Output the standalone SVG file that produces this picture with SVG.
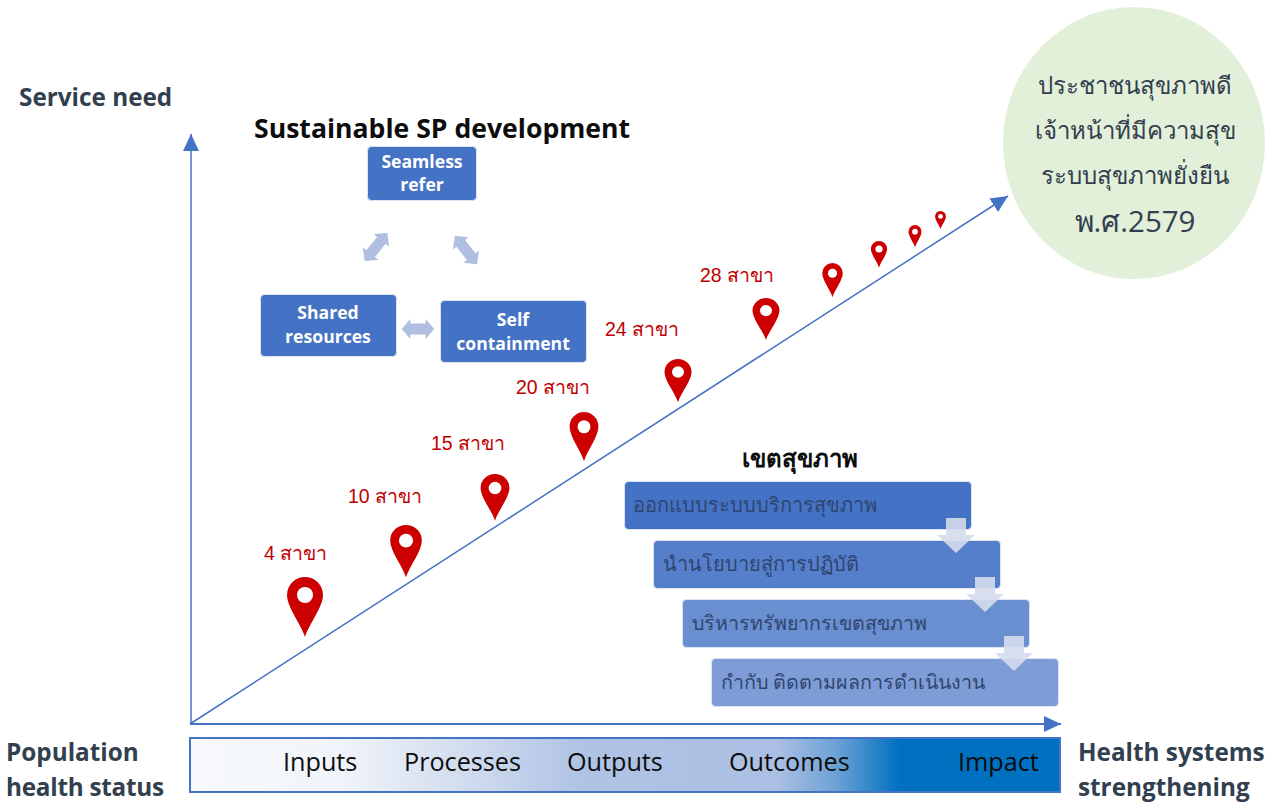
<svg xmlns="http://www.w3.org/2000/svg" xmlns:xlink="http://www.w3.org/1999/xlink" width="1268" height="803" viewBox="0 0 1268 803">
<style>
text{font-family:"Open Sans","Noto Sans","Liberation Sans",sans-serif}
.lab{font-size:24.300px;font-weight:700;fill:#323f4f}
.box{fill:#4472c4;stroke:#dbe4f3;stroke-width:1}
.bt{font-size:17.600px;font-weight:700;fill:#fff;text-anchor:middle}
.red{font-size:19.500px;fill:#c00000;font-family:"Liberation Sans","Noto Sans",sans-serif}
.step{font-size:19.700px;fill:#2f4570}
.ct{font-size:24px;fill:#323f4f;text-anchor:middle}
.bar{font-size:25.200px;fill:#0d0d0d}
.dbl{fill:#b0bfe0}
.down{fill:#d5dcec;opacity:.9}
.line{stroke:#4472c4;fill:none}
</style>
<defs>
<marker id="ah" markerUnits="userSpaceOnUse" markerWidth="18" markerHeight="16" refX="17" refY="8" orient="auto"><path d="M0 0L17 8L0 16Z" fill="#4472c4"/></marker>
<linearGradient id="g" x1="0" x2="1" y1="0" y2="0">
<stop offset="0" stop-color="#f7f9fc"/><stop offset=".17" stop-color="#f1f4fa"/><stop offset=".3" stop-color="#d5dff0"/><stop offset=".45" stop-color="#b0c3e4"/><stop offset=".675" stop-color="#abbfe4"/><stop offset=".74" stop-color="#6fa3d6"/><stop offset=".816" stop-color="#0070c0"/><stop offset="1" stop-color="#0070c0"/>
</linearGradient>
<g id="pin"><path d="M0 60C-4 47-18 30-18 18A18 18 0 0 1 18 18C18 30 4 47 0 60Z" fill="#cc0000"/><circle cx="0" cy="18" r="8" fill="#fff"/></g>
<path id="dbl" d="M-18 0L-8.500 -10V-5.500H8.500V-10L18 0L8.500 10V5.500H-8.500V10Z"/>
</defs>

<g id="connectors">
<path class="line" stroke-width="1.5" d="M191 724V134" marker-end="url(#ah)"/>
<path class="line" stroke-width="2" d="M190 724H1061" marker-end="url(#ah)"/>
<path class="line" stroke-width="1.5" d="M190 724L1008 196" marker-end="url(#ah)"/>
</g>

<g id="axis-labels">
<text class="lab" x="19" y="106">Service need</text>
<text class="lab" x="6" y="761">Population</text>
<text class="lab" x="6" y="796" textLength="158">health status</text>
<text class="lab" x="1078" y="761">Health systems</text>
<text class="lab" x="1078" y="796">strengthening</text>
</g>

<g id="goal">
<ellipse cx="1134" cy="143" rx="131" ry="136" fill="#e2efd9"/>
<text class="ct" x="1135" y="94">ประชาชนสุขภาพดี</text>
<text class="ct" x="1135" y="139">เจ้าหน้าที่มีความสุข</text>
<text class="ct" x="1135" y="184">ระบบสุขภาพยั่งยืน</text>
<text class="ct" x="1135" y="232" style="font-size:29.500px">พ.ศ.2579</text>
</g>

<g id="sp-title"><text x="254" y="138" font-size="26.600" font-weight="700" fill="#0d0d0d">Sustainable SP development</text></g>
<g id="seamless"><rect class="box" x="367.500" y="146.500" width="109" height="54" rx="4"/><text class="bt" x="422" y="168">Seamless</text><text class="bt" x="422" y="191">refer</text></g>
<g id="shared"><rect class="box" x="260.500" y="294.500" width="136" height="62" rx="4"/><text class="bt" x="328" y="319">Shared</text><text class="bt" x="328" y="343">resources</text></g>
<g id="self"><rect class="box" x="440.500" y="300.500" width="146" height="62" rx="4"/><text class="bt" x="513" y="326">Self</text><text class="bt" x="513" y="350">containment</text></g>
<g id="cycle-arrows" class="dbl">
<use href="#dbl" transform="translate(418 329) scale(.9 1)"/>
<use href="#dbl" transform="translate(376 247) rotate(-51)"/>
<use href="#dbl" transform="translate(466 250) rotate(52)"/>
</g>

<g id="pins">
<use href="#pin" transform="translate(305 577)"/>
<use href="#pin" transform="translate(406 525) scale(.88 .87)"/>
<use href="#pin" transform="translate(495 474) scale(.8 .78)"/>
<use href="#pin" transform="translate(584 412) scale(.8 .82)"/>
<use href="#pin" transform="translate(678 359) scale(.75 .72)"/>
<use href="#pin" transform="translate(766 298) scale(.75 .7)"/>
<use href="#pin" transform="translate(832.500 263) scale(.57 .57)"/>
<use href="#pin" transform="translate(879 241) scale(.45 .44)"/>
<use href="#pin" transform="translate(915 225) scale(.36 .37)"/>
<use href="#pin" transform="translate(940.500 211) scale(.3 .3)"/>
</g>
<g id="pin-labels">
<text class="red" x="264" y="560">4 สาขา</text>
<text class="red" x="348" y="503">10 สาขา</text>
<text class="red" x="431" y="450">15 สาขา</text>
<text class="red" x="516" y="394">20 สาขา</text>
<text class="red" x="605" y="336">24 สาขา</text>
<text class="red" x="700" y="282">28 สาขา</text>
</g>

<g id="district-title"><text x="800" y="467" text-anchor="middle" font-size="24" font-weight="700" fill="#0d0d0d">เขตสุขภาพ</text></g>
<g id="step1"><rect x="624.500" y="481.500" width="347" height="48" rx="4" fill="#4472c4" stroke="#dbe4f3"/><text class="step" x="633" y="512" style="font-size:20px">ออกแบบระบบบริการสุขภาพ</text></g>
<g id="step2"><rect x="653.500" y="540.500" width="347" height="48" rx="4" fill="#557fca" stroke="#dbe4f3"/><text class="step" x="663" y="571" style="font-size:20px">นำนโยบายสู่การปฏิบัติ</text></g>
<g id="step3"><rect x="682.500" y="599.500" width="347" height="48" rx="4" fill="#6a8fd0" stroke="#dbe4f3"/><text class="step" x="692" y="630" style="font-size:19.600px">บริหารทรัพยากรเขตสุขภาพ</text></g>
<g id="step4"><rect x="711.500" y="658.500" width="347" height="48" rx="4" fill="#7e9dd6" stroke="#dbe4f3"/><text class="step" x="721" y="689">กำกับ ติดตามผลการดำเนินงาน</text></g>
<g id="step-arrows">
<path class="down" d="M946 518H966V535H975L956 553L937 535H946Z"/>
<path class="down" d="M975 577H995V594H1004L985 612L966 594H975Z"/>
<path class="down" d="M1004 636H1024V653H1033L1014 671L995 653H1004Z"/>
</g>

<g id="results-bar">
<rect x="190" y="738" width="870" height="54" fill="url(#g)" stroke="#4472c4" stroke-width="2"/>
<text class="bar" x="283" y="771">Inputs</text>
<text class="bar" x="404" y="771">Processes</text>
<text class="bar" x="567" y="771">Outputs</text>
<text class="bar" x="729" y="771">Outcomes</text>
<text class="bar" x="958" y="771">Impact</text>
</g>
</svg>
